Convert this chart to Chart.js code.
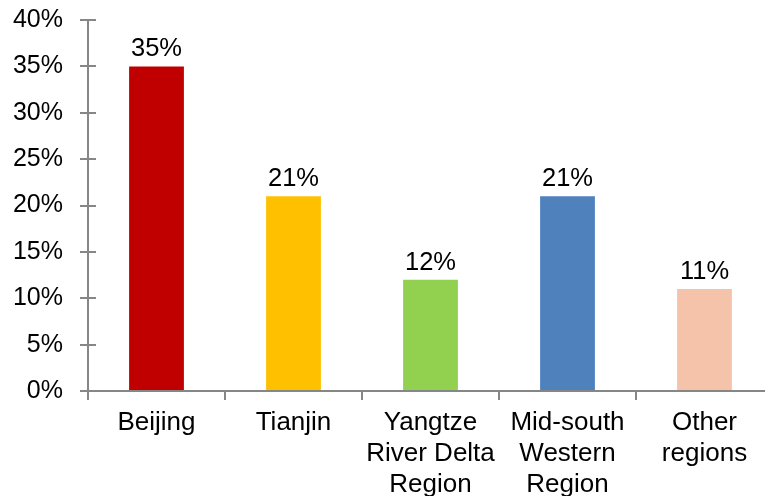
<!DOCTYPE html>
<html>
<head>
<meta charset="utf-8">
<script src="https://cdn.jsdelivr.net/npm/chart.js@4/dist/chart.umd.min.js"></script>
<style>
  html, body { margin: 0; padding: 0; background: #fff; overflow: hidden; }
  canvas { display: block; }
</style>
</head>
<body>
<canvas id="regionShare" width="775" height="496"></canvas>
<script>
// regions on the x axis (multi-line labels)
let regions = [
  'Beijing',
  'Tianjin',
  ['Yangtze', 'River Delta', 'Region'],
  ['Mid-south', 'Western', 'Region'],
  ['Other', 'regions']
]
// share of each region, in %
let shares = [35, 21, 12, 21, 11]
let barColors = ['#C00000', '#FFC000', '#92D050', '#4F81BD', '#F5C3AA']
let yTicks = [0, 5, 10, 15, 20, 25, 30, 35, 40]

let axisGray = '#868686'
let font = "'Liberation Sans', Arial, sans-serif"

// value labels above bars + the inside half of the y tick marks
let extras = {
  id: 'extras',
  afterDatasetsDraw(chart) {
    let ctx = chart.ctx
    ctx.save()
    ctx.font = '25.5px ' + font
    ctx.fillStyle = '#000'
    ctx.textAlign = 'center'
    ctx.textBaseline = 'alphabetic'
    chart.getDatasetMeta(0).data.forEach((bar, i) => {
      ctx.fillText(shares[i] + '%', bar.x, bar.y - 10)
    })
    let y = chart.scales.y
    let left = chart.chartArea.left
    ctx.strokeStyle = axisGray
    ctx.lineWidth = 2
    yTicks.forEach(t => {
      let py = Math.round(y.getPixelForValue(t))
      ctx.beginPath()
      ctx.moveTo(left, py)
      ctx.lineTo(left + 8, py)
      ctx.stroke()
    })
    ctx.restore()
  }
}

let ctx = document.getElementById('regionShare').getContext('2d')
new Chart(ctx, {
  type: 'bar',
  data: {
    labels: regions,
    datasets: [{
      data: shares,
      backgroundColor: barColors,
      categoryPercentage: 1,
      barPercentage: 0.4
    }]
  },
  options: {
    responsive: false,
    animation: false,
    layout: { padding: { top: 20, right: 2, left: 0, bottom: 0 } },
    plugins: { legend: { display: false }, tooltip: { enabled: false } },
    scales: {
      x: {
        offset: true,
        grid: {
          offset: true,
          drawOnChartArea: false,
          tickLength: 9,
          color: axisGray,
          lineWidth: 2
        },
        border: { color: axisGray, width: 2 },
        ticks: {
          color: '#000',
          padding: 7,
          maxRotation: 0,
          autoSkip: false,
          font: { family: font, size: 26, lineHeight: '31px' }
        },
        afterFit(scale) { scale.height = 105 }
      },
      y: {
        min: 0,
        max: 40,
        afterBuildTicks(scale) { scale.ticks = yTicks.map(v => ({ value: v })) },
        grid: {
          drawOnChartArea: false,
          tickLength: 8,
          color: axisGray,
          lineWidth: 2
        },
        border: { color: axisGray, width: 2 },
        ticks: {
          color: '#000',
          padding: 17,
          font: { family: font, size: 25 },
          callback: v => v + '%'
        },
        afterFit(scale) {
          scale.width = 88
          scale.paddingTop = 0
          scale.paddingBottom = 0
        }
      }
    }
  },
  plugins: [extras]
})
</script>
</body>
</html>
